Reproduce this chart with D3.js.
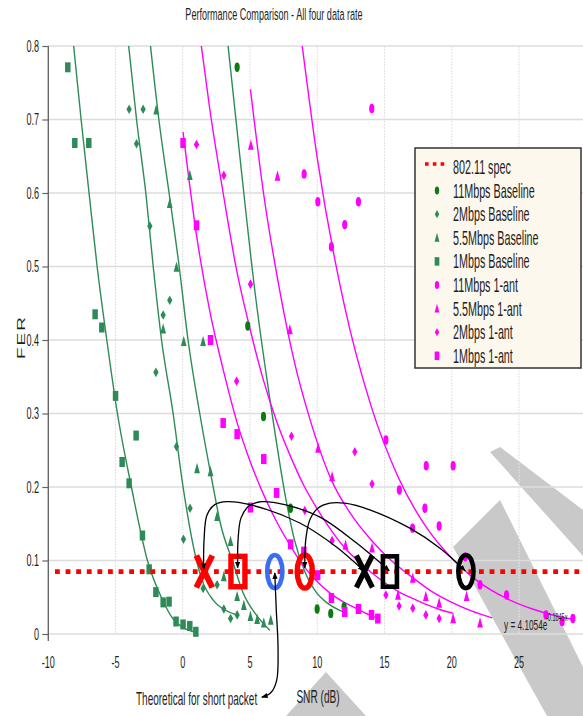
<!DOCTYPE html>
<html>
<head>
<meta charset="utf-8">
<script src="https://cdn.jsdelivr.net/npm/d3@7"></script>
<style>
  body { margin: 0; background: #fff; }
  svg text { font-family: "Liberation Sans", Arial, sans-serif; fill: #1e1e1e; }
</style>
</head>
<body>
<div id="chart"></div>
<script>
// ---- data ----
const xTicks = [-10, -5, 0, 5, 10, 15, 20, 25];
const yTicks = [0, 0.1, 0.2, 0.3, 0.4, 0.5, 0.6, 0.7, 0.8];
const specFER = 0.085;

// baseline measurements [snr, fer]
const base11 = [[4.04,0.771],[4.83,0.419],[6.0,0.296],[8.01,0.171],[9.99,0.034],[11.0,0.028],[11.99,0.037]];
const base2 = [[-3.99,0.714],[-2.95,0.714],[-3.44,0.667],[-2.45,0.555],[-0.97,0.454],[-1.46,0.434],[-2.0,0.356],
  [-0.47,0.255],[0.54,0.171],[0.05,0.129],[1.51,0.062],[2.55,0.067],[3.05,0.034],[3.55,0.021],[4.04,0.026]];
const base55 = [[-1.98,0.713],[-0.97,0.586],[0.52,0.624],[-0.47,0.499],[-1.46,0.415],[0.07,0.398],[1.51,0.398],
  [1.06,0.225],[2.06,0.221],[2.55,0.16],[3.55,0.126],[3.05,0.078],[4.04,0.051],[4.54,0.039],[5.03,0.024],
  [5.53,0.02],[6.02,0.015],[6.54,0.019]];
const base1 = [[-8.55,0.771],[-8.03,0.668],[-6.99,0.668],[-6.52,0.435],[-6.02,0.417],[-5.0,0.324],[-4.51,0.234],
  [-3.99,0.205],[-3.47,0.270],[-3.0,0.134],[-2.5,0.088],[-2.0,0.057],[-1.46,0.043],[-1.02,0.044],[-0.5,0.017],
  [0.02,0.013],[0.52,0.011],[0.97,0.003]];

// 1-antenna measurements
const ant11 = [[9.02,0.626],[10.04,0.588],[11.05,0.527],[12.04,0.557],[13.06,0.588],[14.05,0.715],[15.1,0.264],
  [16.1,0.196],[17.08,0.144],[18.0,0.171],[18.1,0.229],[19.06,0.147],[20.1,0.229],[21.0,0.105],[22.1,0.067],
  [24.07,0.053],[27.0,0.026],[28.2,0.017],[29.0,0.021]];
const ant55 = [[5.06,0.665],[7.04,0.623],[7.96,0.414],[10.06,0.253],[11.1,0.214],[12.1,0.121],[14.07,0.117],
  [16.0,0.053],[17.1,0.076],[18.07,0.051],[19.06,0.042],[20.1,0.021],[21.1,0.051],[22.1,0.015]];
const ant2 = [[1.02,0.666],[3.05,0.624],[4.0,0.344],[5.03,0.476],[8.08,0.269],[9.07,0.168],[11.1,0.127],
  [12.79,0.248],[14.07,0.204],[15.1,0.053],[16.08,0.038],[17.1,0.035],[18.07,0.026],[19.06,0.021]];
const ant1 = [[0.02,0.668],[1.02,0.556],[2.06,0.4],[3.0,0.287],[4.04,0.272],[5.03,0.172],[6.02,0.238],[6.97,0.192],
  [8.02,0.122],[9.0,0.112],[10.03,0.08],[11.05,0.049],[12.04,0.03],[13.06,0.034],[14.03,0.026],[14.5,0.021]];

// trend lines
const trendBase11 = [[3.32,0.808],[4.3,0.64],[5.35,0.468],[6.71,0.291],[7.6,0.19],[8.3,0.128],[9.07,0.085],
  [10.0,0.055],[10.68,0.043],[11.92,0.03]];
const trendBase2 = [[-4.07,0.808],[-3.44,0.7],[-2.75,0.6],[-2.2,0.5],[-1.58,0.4],[-0.72,0.3],[0.02,0.2],
  [1.02,0.1],[1.4,0.075],[2.26,0.046],[3.2,0.032],[4.07,0.026]];
const trendBase55 = [[-2.45,0.808],[-1.78,0.7],[-1.02,0.6],[-0.27,0.5],[0.39,0.4],[1.26,0.3],[2.26,0.2],
  [2.8,0.15],[3.74,0.097],[4.48,0.056],[5.5,0.025],[6.47,0.005]];
const trendBase1 = [[-8.16,0.808],[-7.56,0.7],[-6.97,0.6],[-6.37,0.5],[-5.65,0.4],[-4.86,0.3],[-3.82,0.2],
  [-2.63,0.1],[-1.5,0.046],[-0.7,0.02],[0,0.009],[1.0,0.002]];
const trendAnt11 = [[8.88,0.8],[10,0.647],[12,0.448],[14,0.31],[16,0.214],[18,0.148],[20,0.103],[22,0.071],
  [24,0.049],[26,0.034],[28,0.0235],[29.0,0.02]];
const trendAnt55 = [[5.03,0.741],[6,0.6],[7.2,0.468],[8.3,0.37],[9.44,0.293],[11.06,0.209],[12.5,0.163],
  [14,0.128],[15.5,0.1],[17,0.078],[18.5,0.058],[20,0.043],[21.5,0.031],[23,0.022]];
const trendAnt2 = [[1.32,0.808],[2,0.715],[3,0.6],[4,0.495],[5,0.415],[6,0.345],[7,0.288],[8,0.242],[9,0.202],
  [10,0.17],[11,0.142],[12,0.118],[13,0.1],[14,0.084],[15,0.07],[16,0.058],[17,0.049],[18,0.041],[19,0.034],[20.1,0.028]];
const trendAnt1 = [[0.02,0.683],[1,0.545],[2,0.44],[3,0.36],[4,0.29],[5,0.235],[6,0.19],[7,0.152],[8,0.12],
  [9,0.092],[10,0.071],[11,0.055],[12,0.043],[13,0.034],[14,0.025],[14.6,0.021]];

// comparison markers on the spec line (snr)
const redMarks = [{ kind: 'x', snr: 1.6 }, { kind: 'box', snr: 4.1 }, { kind: 'ring', snr: 6.84, blue: true }, { kind: 'ring', snr: 9.07 }];
const blackMarks = [{ kind: 'x', snr: 13.5 }, { kind: 'box', snr: 15.4 }, { kind: 'ring', snr: 21.05 }];

// connector arcs, traced in data units
const arcs = [
  [[1.55,0.088],[1.58,0.128],[1.8,0.162],[2.38,0.176],[3.27,0.18],[4.98,0.176],[8.7,0.151],[11.45,0.118],[13.45,0.086]],
  [[4.08,0.09],[4.11,0.128],[4.33,0.158],[4.91,0.174],[5.87,0.18],[7.58,0.176],[10.2,0.159],[12.9,0.124],[15.35,0.086]],
  [[9.07,0.09],[9.14,0.128],[9.44,0.155],[10.04,0.171],[10.93,0.178],[12.04,0.178],[13.9,0.169],[16.88,0.144],[19.1,0.117],[21.0,0.086]]
];
const theoryArrow = [[6.84,0.083],[6.95,0.033],[7.08,-0.018],[6.98,-0.063],[6.54,-0.080],[5.87,-0.086]];

const GREEN = '#2e8b57';
const DKGREEN = '#0f7a12';
const MAGENTA = '#ff00ff';

const series = [
  { name: '11Mbps Baseline', color: DKGREEN, shape: 'circle', points: base11, trend: trendBase11, line: GREEN },
  { name: '2Mbps Baseline', color: GREEN, shape: 'diamond', points: base2, trend: trendBase2, line: GREEN },
  { name: '5.5Mbps Baseline', color: GREEN, shape: 'triangle', points: base55, trend: trendBase55, line: GREEN },
  { name: '1Mbps Baseline', color: GREEN, shape: 'square', points: base1, trend: trendBase1, line: GREEN },
  { name: '11Mbps 1-ant', color: MAGENTA, shape: 'circle', points: ant11, trend: trendAnt11, line: MAGENTA },
  { name: '5.5Mbps 1-ant', color: MAGENTA, shape: 'triangle', points: ant55, trend: trendAnt55, line: MAGENTA },
  { name: '2Mbps 1-ant', color: MAGENTA, shape: 'diamond', points: ant2, trend: trendAnt2, line: MAGENTA },
  { name: '1Mbps 1-ant', color: MAGENTA, shape: 'square', points: ant1, trend: trendAnt1, line: MAGENTA }
];

// ---- drawing ----
const W = 583, H = 716;
const SX = 0.55; // the whole figure is squeezed horizontally

const svg = d3.select('#chart').append('svg').attr('width', W).attr('height', H);
const defs = svg.append('defs');

const x = d3.scaleLinear().domain([-10, 30]).range([48.3, 586.3]);
const y = d3.scaleLinear().domain([0, 0.8]).range([634, 46]);

defs.append('clipPath').attr('id', 'plot-clip')
  .append('rect').attr('x', 48).attr('y', 46).attr('width', W - 48).attr('height', 600);

defs.append('marker')
  .attr('id', 'arrow')
  .attr('viewBox', '0 0 10 10')
  .attr('refX', 9).attr('refY', 5)
  .attr('markerWidth', 5).attr('markerHeight', 5)
  .attr('orient', 'auto-start-reverse')
  .append('path').attr('d', 'M0,1L10,5L0,9Z').attr('fill', '#000');

function squishText(sel, px, py, str, size, anchor) {
  return sel.append('text')
    .attr('transform', `translate(${px},${py}) scale(${SX},1)`)
    .attr('text-anchor', anchor || 'start')
    .style('font-size', size + 'px')
    .text(str);
}

function shapePath(shape, s) {
  const k = s || 1;
  if (shape === 'circle') return d3.symbol(d3.symbolCircle, Math.PI * 4.7 * 4.7 * k * k)();
  if (shape === 'square') return `M${-5*k},${-5*k}h${10*k}v${10*k}h${-10*k}Z`;
  if (shape === 'diamond') return `M0,${-4.8*k}L${4.8*k},0L0,${4.8*k}L${-4.8*k},0Z`;
  return `M0,${-5.8*k}L${5.2*k},${4.6*k}L${-5.2*k},${4.6*k}Z`;
}

// watermark strokes behind everything
const watermark = [
  [[490,452],[500,447],[583,510],[583,556]],
  [[453,547],[500,500],[583,667],[583,716],[547,716]],
  [[286,716],[326,672],[366,716]]
];
svg.append('g').selectAll('polygon')
  .data(watermark)
  .join('polygon')
  .attr('points', d => d.map(p => p.join(',')).join(' '))
  .attr('fill', '#c9c9c9');

// grid
const grid = svg.append('g').attr('class', 'grid');
grid.selectAll('line.h')
  .data(yTicks)
  .join('line')
  .attr('class', 'h')
  .attr('x1', 48).attr('x2', W)
  .attr('y1', d => y(d)).attr('y2', d => y(d))
  .attr('stroke', '#dcdcdc').attr('stroke-width', 1.6);
grid.selectAll('line.v')
  .data(xTicks.filter(d => d > -10))
  .join('line')
  .attr('class', 'v')
  .attr('x1', d => x(d)).attr('x2', d => x(d))
  .attr('y1', 46).attr('y2', 634)
  .attr('stroke', '#e2e2e2').attr('stroke-width', 1)
  .attr('stroke-dasharray', '2,1');

// y axis
const yAxis = svg.append('g')
  .attr('transform', 'translate(48.3,0)')
  .call(d3.axisLeft(y).tickValues(yTicks).tickSize(6).tickFormat(() => ''));
yAxis.select('.domain').attr('d', 'M0,46V641').attr('stroke', '#666').attr('stroke-width', 1.4);
yAxis.selectAll('.tick line').attr('stroke', '#666').attr('stroke-width', 1.2);

yTicks.forEach(v => {
  squishText(svg, 39, y(v) + 5.8, v === 0 ? '0' : d3.format('.1f')(v), 16.5, 'end');
});
xTicks.forEach(v => {
  squishText(svg, x(v), 668, String(v), 16.5, 'middle');
});

const plot = svg.append('g').attr('clip-path', 'url(#plot-clip)');

// trend lines
const trendLine = d3.line()
  .x(d => x(d[0]))
  .y(d => y(d[1]))
  .curve(d3.curveMonotoneX);

plot.selectAll('path.trend')
  .data(series)
  .join('path')
  .attr('class', 'trend')
  .attr('d', d => trendLine(d.trend))
  .attr('fill', 'none')
  .attr('stroke', d => d.line)
  .attr('stroke-width', 1.4);

// points
const groups = plot.selectAll('g.series')
  .data(series)
  .join('g')
  .attr('class', 'series');

groups.selectAll('path')
  .data(d => d.points.map(p => ({ p, s: d })))
  .join('path')
  .attr('d', d => shapePath(d.s.shape))
  .attr('transform', d => `translate(${x(d.p[0])},${y(d.p[1])}) scale(${SX},1)`)
  .attr('fill', d => d.s.color);

// 802.11 spec line
svg.append('line')
  .attr('x1', 55).attr('x2', W)
  .attr('y1', y(specFER)).attr('y2', y(specFER))
  .attr('stroke', '#ff0000')
  .attr('stroke-width', 4.8)
  .attr('stroke-dasharray', '4.8,5.8');

// big comparison markers
function drawMark(g, m, color, sw) {
  const cx = x(m.snr), cy = y(specFER);
  if (m.kind === 'x') {
    g.append('path')
      .attr('d', `M${cx - 8},${cy - 16}L${cx + 8},${cy + 16}M${cx + 8},${cy - 16}L${cx - 8},${cy + 16}`)
      .attr('stroke', color).attr('stroke-width', sw + 0.6).attr('fill', 'none');
  } else if (m.kind === 'box') {
    g.append('rect')
      .attr('x', cx - 7).attr('y', cy - 15.2)
      .attr('width', 14).attr('height', 30.4)
      .attr('stroke', color).attr('stroke-width', sw).attr('fill', 'none');
  } else {
    g.append('ellipse')
      .attr('cx', cx).attr('cy', cy)
      .attr('rx', 7.6).attr('ry', 16.6)
      .attr('stroke', color).attr('stroke-width', sw).attr('fill', 'none');
  }
}
const marks = svg.append('g');
redMarks.forEach(m => drawMark(marks, m, m.blue ? '#3a6df0' : '#ff0000', m.blue ? 4.6 : 5.4));
blackMarks.forEach(m => drawMark(marks, m, '#000', 4.6));

// arcs between black and red markers
const arcLine = d3.line()
  .x(d => x(d[0]))
  .y(d => y(d[1]))
  .curve(d3.curveCatmullRom.alpha(0.5));

svg.append('g').selectAll('path')
  .data(arcs.map(a => a.slice().reverse()).concat([theoryArrow]))
  .join('path')
  .attr('d', d => arcLine(d))
  .attr('fill', 'none')
  .attr('stroke', '#000')
  .attr('stroke-width', 1.3)
  .attr('marker-start', 'url(#arrow)')
  .attr('marker-end', 'url(#arrow)');

// legend
const legendItems = [{ name: '802.11 spec', spec: true }].concat(series);
const legend = svg.append('g');
legend.append('rect')
  .attr('x', 415).attr('y', 148)
  .attr('width', 166).attr('height', 220)
  .attr('fill', '#fdf8ee')
  .attr('stroke', '#333')
  .attr('stroke-width', 1.5);

legendItems.forEach((d, i) => {
  const by = 174 + i * 23.6;
  if (d.spec) {
    legend.append('line')
      .attr('x1', 425).attr('x2', 448)
      .attr('y1', by - 10).attr('y2', by - 10)
      .attr('stroke', '#ff0000').attr('stroke-width', 3.6)
      .attr('stroke-dasharray', '3.6,4.2');
  } else {
    legend.append('path')
      .attr('d', shapePath(d.shape, 0.85))
      .attr('transform', `translate(437,${by - 7}) scale(${SX},1)`)
      .attr('fill', d.color);
  }
  squishText(legend, 453, by, d.name, 19.6);
});

// texts
squishText(svg, 274, 20, 'Performance Comparison - All four data rate', 16.5, 'middle');
squishText(svg, 318, 703, 'SNR (dB)', 18.4, 'middle');
squishText(svg, 136, 705, 'Theoretical for short packet', 18.2);
squishText(svg, 504, 630, 'y = 4.1054e', 15);
squishText(svg, 546, 621, '-0.1845x', 10);

svg.append('text')
  .attr('transform', `translate(25,337) scale(${SX},1) rotate(-90)`)
  .attr('text-anchor', 'middle')
  .style('font-size', '19px')
  .style('letter-spacing', '2px')
  .text('FER');
</script>
</body>
</html>
